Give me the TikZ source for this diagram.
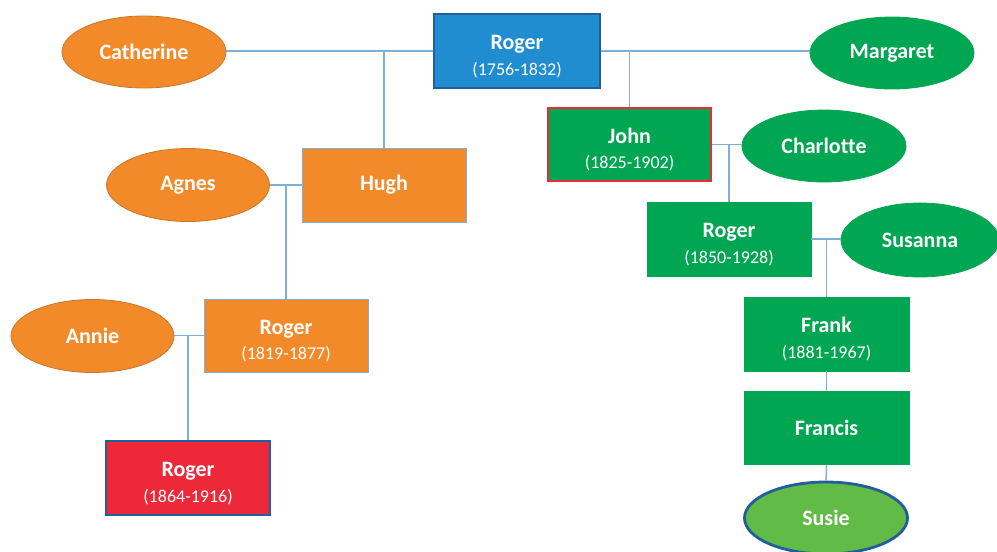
\documentclass[tikz,border=0pt]{standalone}
\usepackage{fontspec}
\setmainfont{Carlito}
\usetikzlibrary{shapes.geometric}
\definecolor{orng}{HTML}{F28A2A}
\definecolor{grn}{HTML}{00A651}
\definecolor{lgrn}{HTML}{62BA47}
\definecolor{blu}{HTML}{1F8DD0}
\definecolor{redc}{HTML}{EC2839}
\definecolor{dblu}{HTML}{215F9C}
\definecolor{lnc}{HTML}{7DB0D8}
\definecolor{obord}{HTML}{C8762E}
\tikzset{
  person/.style={rectangle, minimum width=164pt, minimum height=74pt, inner sep=0pt, text=white, align=center, draw=lnc, line width=0.8pt, font=\fontsize{18}{25.5}\selectfont},
  spouse/.style={ellipse, minimum width=164pt, minimum height=72pt, inner sep=0pt, text=white, align=center, line width=0.8pt},
  conn/.style={draw=lnc, line width=1.4pt},
  nm/.style={font=\fontsize{22}{25}\selectfont\bfseries},
}
\newcommand{\pname}[2]{{\rule{0pt}{25pt}\fontsize{22}{25.5}\selectfont\bfseries #1}\\{\fontsize{18}{25.5}\selectfont (#2)}}
\begin{document}
\begin{tikzpicture}[x=1pt,y=-1pt]
\useasboundingbox (0,0) rectangle (997,552);
% nodes
\node[person, fill=blu, draw=dblu, line width=1.5pt, minimum width=166pt] (rog1) at (517,51) {\pname{Roger}{1756-1832}};
\node[spouse, fill=orng, draw=obord, nm] (cath) at (144,52) {Catherine};
\node[spouse, fill=grn, draw=grn, nm] (marg) at (892,53) {Margaret};
\node[person, fill=orng, draw=lnc, nm] (hugh) at (384,185) {Hugh};
\node[spouse, fill=orng, draw=obord, nm, minimum width=163pt, minimum height=73pt] (agnes) at (188,185) {Agnes};
\node[person, fill=orng, minimum height=73pt] (rog2) at (286,335.5) {\pname{Roger}{1819-1877}};
\node[spouse, fill=orng, draw=obord, nm, minimum width=163pt, minimum height=73pt] (annie) at (92.5,336) {Annie};
\node[person, fill=redc, draw=dblu, line width=2.8pt, minimum width=164pt, minimum height=74pt] (rog3) at (188,478) {\pname{Roger}{1864-1916}};
\node[person, fill=grn, draw=redc, line width=2.8pt, minimum width=163pt, minimum height=73pt] (john) at (629.5,144.5) {\pname{John}{1825-1902}};
\node[spouse, fill=grn, draw=grn, nm] (charl) at (824,146) {\addfontfeatures{Ligatures=NoCommon}Charlotte};
\node[person, fill=grn, draw=grn] (rog4) at (729,239) {\pname{Roger}{1850-1928}};
\node[spouse, fill=grn, draw=grn, nm, minimum width=158pt, minimum height=74pt] (susa) at (920,240) {Susanna};
\node[person, fill=grn, draw=grn, minimum width=165pt] (frank) at (826.5,334) {\pname{Frank}{1881-1967}};
\node[person, fill=grn, draw=grn, nm, minimum width=165pt, minimum height=73pt] (franc) at (826.5,428) {Francis};
\node[spouse, fill=lgrn, draw=dblu, line width=2.8pt, nm, minimum width=163pt, minimum height=72pt] (susie) at (826,518) {Susie};
% connectors
\coordinate (j1) at (hugh.north |- rog1.west);
\coordinate (j2) at (rog2.north |- hugh.west);
\coordinate (j3) at (rog3.north |- rog2.west);
\coordinate (j4) at (john.north |- rog1.east);
\coordinate (j5) at (rog4.north |- john.east);
\coordinate (j6) at (frank.north |- rog4.east);
\path[conn] (rog1.west) -- (cath.east |- rog1.west);
\path[conn] (rog1.east) -- (marg.west |- rog1.east);
\path[conn] (j1) -- (hugh.north);
\path[conn] (hugh.west) -- (agnes.east |- hugh.west);
\path[conn] (j2) -- (rog2.north);
\path[conn] (rog2.west) -- (annie.east |- rog2.west);
\path[conn] (j3) -- (rog3.north);
\path[conn] (j4) -- (john.north);
\path[conn] (john.east) -- (charl.west |- john.east);
\path[conn] (j5) -- (rog4.north);
\path[conn] (rog4.east) -- (susa.west |- rog4.east);
\path[conn] (j6) -- (frank.north);
\path[conn] (frank.south) -- (franc.north);
\path[conn] (franc.south) -- (susie.north);
\end{tikzpicture}
\end{document}
